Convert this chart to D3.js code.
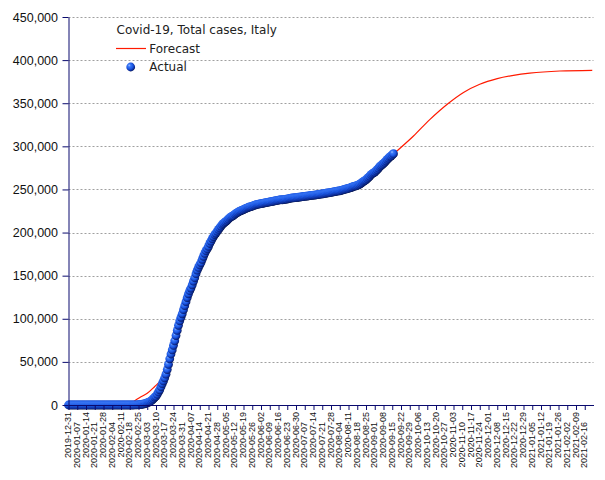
<!DOCTYPE html>
<html>
<head>
<meta charset="utf-8">
<script src="https://cdn.jsdelivr.net/npm/d3@7"></script>
<style>
  html, body { margin: 0; padding: 0; background: #fff; }
  svg { display: block; }
</style>
</head>
<body>
<svg id="chart" width="605" height="480"></svg>
<script>
// ---------- data ----------
const chartTitle = "Covid-19, Total cases, Italy";
const seriesNames = ["Forecast", "Actual"];

// Actual: daily totals starting 2019-12-31
const actualStart = "2019-12-31";
const actualValues = [
  0,0,0,0,0,0,0,0,0,0,0,0,0,0,0,0,0,0,0,0,0,0,0,0,0,0,0,0,0,0,0,
  2,2,2,2,2,2,
  3,3,3,3,3,3,3,3,3,3,3,3,3,3,3,
  20,79,157,229,322,400,650,888,1128,
  1694,2036,2502,3089,3858,4636,5883,7375,9172,10149,12462,15113,17660,21157,24747,27980,31506,35713,41035,47021,53578,59138,63927,69176,74386,80539,86498,92472,97689,101739,105792,
  110574,115242,119827,124632,128948,132547,135586,139422,143626,147577,152271,156363,159516,162488,165155,168941,172434,175925,178972,181228,183957,187327,189973,192994,195351,197675,199414,201505,203591,205463,
  207428,209328,210717,211938,213013,214457,215858,217185,218268,219070,219814,221216,222104,223096,223885,224760,225435,225886,226699,227364,228006,228658,229327,229858,230158,230555,231139,231732,232248,232664,232997,
  233197,233515,233836,234013,234531,234801,234998,235278,235561,235763,236142,236305,236651,236989,237290,237500,237828,238159,238011,238275,238499,238720,238833,239410,239706,239961,240136,240310,240436,240578,
  240760,240961,241184,241419,241611,241819,241956,242149,242363,242639,242827,243061,243230,243344,243506,243736,243967,244216,244434,244624,244752,245032,245338,245590,245864,246118,246286,246488,246776,247158,247537,
  247832,248070,248229,248419,248803,249204,249756,250103,250566,250825,251237,251713,252235,252809,253438,253915,254235,254636,255278,256118,257065,258136,259345,260298,261174,262540,263949,265409,267102,268218,269214,
  270189,271515,272912,274644,276338,277634,278784,280153,281583,283180,284796,286297,287753,288761,289990,291442
];

// Forecast: values read at selected dates
const forecastDates = [
  "2020-02-10","2020-02-18","2020-02-22","2020-02-27","2020-03-03","2020-03-09","2020-03-13",
  "2020-03-18","2020-03-22","2020-03-26","2020-03-31","2020-04-07","2020-04-15","2020-04-25",
  "2020-05-05","2020-05-18","2020-06-01","2020-06-20","2020-07-10","2020-07-31","2020-08-15",
  "2020-08-25","2020-09-05","2020-09-16","2020-10-02","2020-10-15","2020-10-30","2020-11-11",
  "2020-11-24","2020-12-08","2020-12-21","2021-01-03","2021-01-27","2021-02-22"
];
const forecastValues = [
  0,1500,5000,9500,13500,21500,27000,
  36000,58000,80000,105000,136000,165000,195000,
  213000,226000,233000,238300,242600,247500,253500,
  261200,276300,291000,312000,331000,350000,362500,
  372000,378500,382300,384900,387400,388200
];

const xDomain = ["2019-12-31", "2021-02-23"];
const xTickStart = "2019-12-31";
const xTickEnd = "2021-02-17";
const yTicks = [0, 50000, 100000, 150000, 200000, 250000, 300000, 350000, 400000, 450000];

// ---------- layout ----------
const svg = d3.select("#chart");
const parse = d3.utcParse("%Y-%m-%d");
const mLeft = 68.5, mRight = 593.5, mTop = 17, mBottom = 405;

const x = d3.scaleUtc().domain(xDomain.map(parse)).range([mLeft, mRight]);
const y = d3.scaleLinear().domain([0, 450000]).range([mBottom, mTop]);

// gradient for spheres
const defs = svg.append("defs");
const grad = defs.append("radialGradient").attr("id", "ball")
  .attr("cx", "42%").attr("cy", "40%").attr("r", "62%")
  .attr("fx", "32%").attr("fy", "30%");
grad.append("stop").attr("offset", "0%").attr("stop-color", "#a4c4ff");
grad.append("stop").attr("offset", "25%").attr("stop-color", "#3c7af8");
grad.append("stop").attr("offset", "60%").attr("stop-color", "#1a56e2");
grad.append("stop").attr("offset", "85%").attr("stop-color", "#0c2c9a");
grad.append("stop").attr("offset", "100%").attr("stop-color", "#061650");

// gridlines
svg.append("g").selectAll("line")
  .data(yTicks.filter(d => d > 0))
  .join("line")
  .attr("x1", mLeft).attr("x2", mRight)
  .attr("y1", d => Math.round(y(d)) + 0.5).attr("y2", d => Math.round(y(d)) + 0.5)
  .attr("stroke", "#a0a0a0").attr("stroke-width", 1)
  .attr("stroke-dasharray", "2,2");

// forecast line
const fData = forecastDates.map((d, i) => ({ date: parse(d), value: forecastValues[i] }));
const line = d3.line().x(d => x(d.date)).y(d => y(d.value)).curve(d3.curveMonotoneX);
svg.append("path").datum(fData)
  .attr("d", line)
  .attr("fill", "none").attr("stroke", "#ff1a00").attr("stroke-width", 1.2);

// actual markers
const start = parse(actualStart);
const aData = actualValues.map((v, i) => ({ date: d3.utcDay.offset(start, i), value: v }));
svg.append("g").selectAll("circle")
  .data(aData)
  .join("circle")
  .attr("cx", d => x(d.date))
  .attr("cy", d => y(d.value))
  .attr("r", 4.4)
  .attr("fill", "url(#ball)");

// axes
const axisColor = "#0a0a6e";
const yAxis = svg.append("g").attr("transform", `translate(${mLeft},0)`)
  .call(d3.axisLeft(y).tickValues(yTicks).tickFormat(d3.format(",")).tickSizeOuter(0).tickPadding(4.5));
yAxis.select(".domain").attr("stroke", axisColor);
yAxis.selectAll(".tick line").attr("stroke", axisColor);
yAxis.selectAll("text").attr("fill", "#111")
  .style("font-family", "'Liberation Sans', Arial, sans-serif").style("font-size", "12.5px");

const xTicks = d3.utcDay.range(parse(xTickStart), parse(xTickEnd), 7);
const fmt = d3.utcFormat("%Y-%m-%d");
const xAxis = svg.append("g").attr("transform", `translate(0,${mBottom})`)
  .call(d3.axisBottom(x).tickValues(xTicks).tickFormat(fmt).tickSize(5).tickSizeOuter(0));
xAxis.select(".domain").attr("stroke", axisColor);
xAxis.selectAll(".tick line").attr("stroke", axisColor);
xAxis.selectAll(".tick text")
  .attr("transform", (d, i) => `translate(-1,${i % 2 === 0 ? 7 : 17}) rotate(-90)`)
  .attr("x", 0).attr("y", 0).attr("dy", "0.35em")
  .attr("text-anchor", "end")
  .attr("fill", "#111")
  .style("font-family", "'Liberation Sans', Arial, sans-serif").style("font-size", "9px");

// legend
const lg = svg.append("g").style("font-family", "'DejaVu Sans', sans-serif").style("font-size", "12px");
lg.append("text").attr("x", 116.5).attr("y", 34.3).attr("fill", "#222").text(chartTitle);
lg.append("line").attr("x1", 116).attr("x2", 146).attr("y1", 48.5).attr("y2", 48.5)
  .attr("stroke", "#ff1a00").attr("stroke-width", 1.2);
lg.append("text").attr("x", 149.3).attr("y", 52.5).attr("fill", "#222").text(seriesNames[0]);
lg.append("circle").attr("cx", 130.7).attr("cy", 67).attr("r", 4.4).attr("fill", "url(#ball)");
lg.append("text").attr("x", 149.3).attr("y", 71).attr("fill", "#222").text(seriesNames[1]);
</script>
</body>
</html>
